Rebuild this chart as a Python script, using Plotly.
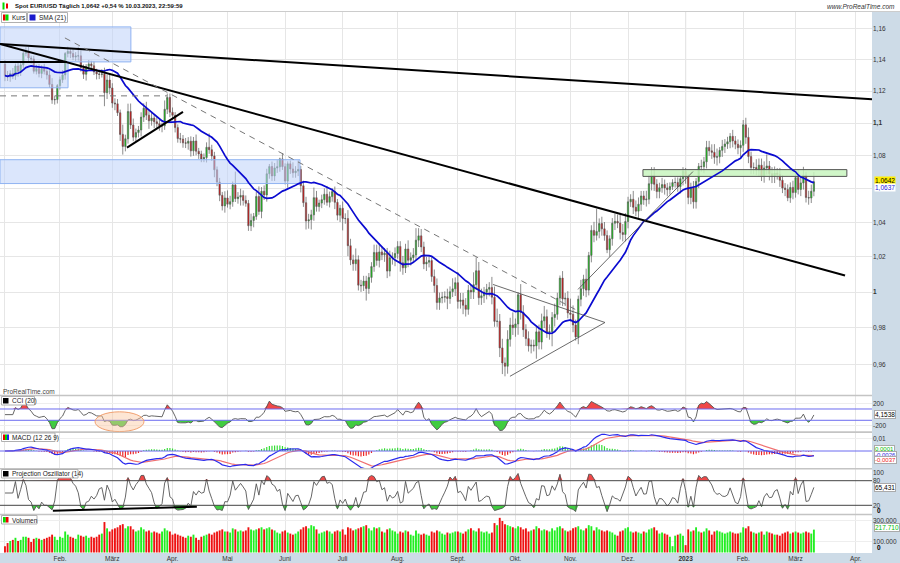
import numpy as np
import pandas as pd
import plotly.graph_objects as go

# ---------------- data (EUR/USD daily) ----------------
close_2022_01 = [1.1298,1.1289,1.1312,1.1296,1.1360,1.1326,1.1367,1.1442,1.1455,1.1411,1.1405,1.1326,1.1343,1.1312,1.1344,1.1326,1.1303,1.1242,1.1145,1.1147,1.1235]
close_2022_02 = [1.1272,1.1303,1.1440,1.1454,1.1440,1.1417,1.1424,1.1425,1.1349,1.1307,1.1357,1.1373,1.1361,1.1322,1.1309,1.1306,1.1309,1.1190,1.1270,1.1220]
close_2022_03 = [1.1125,1.1120,1.1064,1.0930,1.0856,1.0903,1.1072,1.0988,1.0913,1.0941,1.0957,1.1037,1.1093,1.1049,1.1014,1.1031,1.1008,1.0996,1.0983,1.0983,1.1086,1.1160,1.1067]
close_2022_04 = [1.1048,1.0972,1.0904,1.0901,1.0878,1.0876,1.0888,1.0829,1.0889,1.0827,1.0810,1.0780,1.0788,1.0851,1.0836,1.0798,1.0714,1.0640,1.0561,1.0498,1.0545]
close_2022_05 = [1.0508,1.0523,1.0623,1.0541,1.0550,1.0560,1.0530,1.0513,1.0381,1.0412,1.0436,1.0554,1.0465,1.0585,1.0563,1.0690,1.0734,1.0677,1.0725,1.0732,1.0780,1.0733]
close_2022_06 = [1.0646,1.0750,1.0719,1.0696,1.0706,1.0716,1.0618,1.0517,1.0409,1.0416,1.0445,1.0547,1.0494,1.0515,1.0535,1.0567,1.0519,1.0553,1.0583,1.0519,1.0443,1.0484]
close_2022_07 = [1.0424,1.0423,1.0265,1.0183,1.0161,1.0184,1.0039,1.0036,1.0062,1.0020,1.0083,1.0145,1.0226,1.0180,1.0229,1.0212,1.0222,1.0119,1.0196,1.0197,1.0220]
close_2022_08 = [1.0261,1.0166,1.0138,1.0246,1.0181,1.0196,1.0211,1.0297,1.0322,1.0258,1.0160,1.0170,1.0179,1.0088,1.0037,0.9941,0.9967,0.9971,0.9974,0.9964,1.0002,1.0018,1.0053]
close_2022_09 = [0.9947,0.9955,0.9926,0.9903,1.0010,1.0001,1.0042,1.0121,0.9968,0.9979,0.9999,1.0016,1.0026,0.9971,0.9836,0.9837,0.9690,0.9608,0.9590,0.9737,0.9816,0.9801]
close_2022_10 = [0.9822,0.9985,0.9886,0.9790,0.9741,0.9700,0.9705,0.9701,0.9778,0.9722,0.9839,0.9862,0.9775,0.9779,0.9858,0.9875,0.9966,1.0079,0.9961,0.9965,0.9883]
close_2022_11 = [0.9875,0.9816,0.9750,0.9960,1.0019,1.0073,1.0011,1.0209,1.0354,1.0325,1.0348,1.0394,1.0363,1.0324,1.0242,1.0305,1.0396,1.0407,1.0397,1.0341,1.0330,1.0406]
close_2022_12 = [1.0522,1.0537,1.0490,1.0467,1.0508,1.0557,1.0534,1.0538,1.0630,1.0680,1.0627,1.0583,1.0606,1.0625,1.0605,1.0595,1.0613,1.0637,1.0638,1.0612,1.0660,1.0705]
close_2023_01 = [1.0670,1.0548,1.0606,1.0522,1.0644,1.0735,1.0733,1.0762,1.0850,1.0829,1.0820,1.0790,1.0793,1.0832,1.0856,1.0871,1.0885,1.0918,1.0890,1.0869,1.0848,1.0863]
close_2023_02 = [1.0989,1.0912,1.0794,1.0727,1.0728,1.0712,1.0742,1.0676,1.0725,1.0737,1.0690,1.0674,1.0694,1.0685,1.0651,1.0604,1.0596,1.0546,1.0608,1.0577]
close_2023_03 = [1.0667,1.0596,1.0635,1.0682,1.0548,1.0545,1.0585,1.0642]
first_open = 1.1372

# upper / lower wicks in pips (beyond the candle body)
upw_2022_01 = [25,30,20,35,15,30,20,12,25,28,15,20,25,30,20,30,25,30,40,25,10]
dnw_2022_01 = [35,25,30,20,25,35,30,20,20,25,30,15,20,25,30,20,30,20,25,30,25]
upw_2022_02 = [20,30,10,30,20,30,25,60,35,20,15,25,20,30,20,25,30,40,35,40]
dnw_2022_02 = [25,20,30,25,30,20,25,30,25,30,40,20,25,20,35,30,20,85,40,40]
upw_2022_03 = [30,30,30,20,60,25,49,50,40,25,25,30,30,40,30,35,25,30,25,20,55,25,25]
dnw_2022_03 = [30,40,20,40,50,30,30,25,25,30,30,40,30,30,50,30,40,25,30,40,25,30,30]
upw_2022_04 = [30,20,20,35,25,30,25,30,25,40,20,20,25,30,85,30,25,20,25,20,40]
dnw_2022_04 = [25,30,25,25,30,30,40,35,30,25,30,20,20,30,25,30,45,25,35,27,40]
upw_2022_05 = [45,35,20,80,30,40,30,30,20,40,20,30,60,25,35,30,15,30,30,40,7,35]
dnw_2022_05 = [20,30,30,20,30,50,30,20,30,31,40,20,20,40,30,40,30,30,30,30,30,20]
upw_2022_06 = [20,15,20,40,30,55,20,30,35,35,30,60,40,20,30,35,50,30,20,30,20,20]
dnw_2022_06 = [20,40,30,30,30,30,40,25,50,45,57,35,30,30,30,30,20,30,30,40,30,40]
upw_2022_07 = [40,30,50,40,30,65,25,30,30,30,25,25,45,45,50,30,30,30,40,30,35]
dnw_2022_07 = [70,30,60,30,40,40,30,35,30,68,30,30,30,30,40,30,40,40,30,40,50]
upw_2022_08 = [30,30,40,30,50,30,40,70,45,40,30,30,30,20,40,40,30,30,30,45,30,60,30]
dnw_2022_08 = [30,50,40,30,40,30,30,30,40,30,30,40,30,30,40,40,41,30,30,60,30,30,40]
upw_2022_09 = [60,40,40,40,30,30,70,77,50,40,30,30,30,60,60,70,40,50,30,50,40,70]
dnw_2022_09 = [40,40,50,40,30,40,40,30,40,40,40,40,40,40,30,30,50,60,54,40,40,40]
upw_2022_10 = [30,14,60,40,30,40,30,30,30,40,40,60,40,40,30,60,30,15,40,30,40]
dnw_2022_10 = [50,60,40,40,40,30,40,30,70,40,40,40,30,40,80,50,30,40,40,40,30]
upw_2022_11 = [80,50,30,20,50,25,60,20,30,50,133,30,40,40,30,20,30,45,40,60,50,50]
dnw_2022_11 = [40,40,20,40,40,40,40,30,40,40,30,40,40,30,20,40,40,40,30,40,40,40]
upw_2022_12 = [30,30,50,40,40,30,30,50,50,50,50,30,30,40,30,30,25,20,30,30,20,25]
dnw_2022_12 = [40,30,40,30,40,40,30,40,30,40,40,40,40,30,40,40,30,20,30,30,40,40]
upw_2023_01 = [20,20,30,40,20,20,40,30,40,40,40,50,50,20,40,30,30,20,40,30,30,30]
dnw_2023_01 = [40,40,40,40,40,40,30,40,40,30,40,40,50,40,40,40,30,40,40,30,40,60]
upw_2023_02 = [30,44,60,30,30,50,40,40,40,70,30,40,40,30,40,30,30,30,30,40]
dnw_2023_02 = [40,40,40,40,40,30,40,30,40,40,40,40,40,30,40,30,40,20,30,40]
upw_2023_03 = [24,50,40,50,20,40,40,58]
dnw_2023_03 = [30,30,40,40,30,40,30,30]

# volume in thousands
vol_2022_01 = [60,90,110,120,140,110,120,150,150,140,100,130,140,130,120,130,140,150,170,150,120]
vol_2022_02 = [150,140,200,170,150,140,130,170,160,150,160,140,150,140,150,170,180,290,230,200]
vol_2022_03 = [220,230,240,260,270,230,250,250,220,200,210,240,220,200,210,190,200,190,180,200,230,210,200]
vol_2022_04 = [170,180,170,160,150,140,160,150,170,140,120,150,160,170,180,170,190,200,210,220,200]
vol_2022_05 = [200,190,230,220,200,210,200,210,240,220,210,220,230,240,220,230,240,220,210,190,180,200]
vol_2022_06 = [210,190,180,170,180,200,220,240,250,230,260,250,220,180,190,200,210,200,180,200,210,200]
vol_2022_07 = [220,170,240,230,210,220,230,240,250,260,230,210,240,230,240,200,190,220,230,210,200]
vol_2022_08 = [180,200,190,210,200,170,160,210,180,170,180,170,160,200,190,210,200,180,170,190,180,190,200]
vol_2022_09 = [200,190,180,200,220,230,210,200,230,200,190,200,180,190,280,260,330,300,270,260,250,240]
vol_2022_10 = [230,250,240,220,230,200,210,220,250,230,210,220,210,200,230,210,240,250,230,210,200]
vol_2022_11 = [210,230,240,250,220,210,230,260,250,210,240,220,210,200,210,200,190,170,160,200,210,230]
vol_2022_12 = [240,200,190,200,190,180,200,190,220,230,240,210,180,190,180,170,150,60,160,170,180,160]
vol_2023_01 = [70,220,200,210,240,200,190,200,230,210,170,200,210,200,190,180,190,200,190,180,180,190]
vol_2023_02 = [240,230,250,200,190,180,190,200,170,200,190,180,170,170,160,180,190,200,180,190]
vol_2023_03 = [200,190,180,190,200,190,180,217.71]

month_tick_text = ["", "Feb.", "März", "Apr.", "Mai", "Juni", "Juli", "Aug.", "Sept.", "Okt.",
                   "Nov.", "Dez.", "<b>2023</b>", "Feb.", "März", "Apr."]
price_ticks = [0.96, 0.98, 1.00, 1.02, 1.04, 1.06, 1.08, 1.10, 1.12, 1.14, 1.16]
price_tick_text = ["0,96", "0,98", "<b>1</b>", "1,02", "1,04", "", "1,08", "<b>1,1</b>", "1,12", "1,14", "1,16"]

# drawings on the price chart: (bar index, price) pairs
trend_solid = [(-1.9, 1.1502, 331.2, 1.1149), (-1.9, 1.1502, 320.9, 1.0094),
               (46.6, 1.0849, 68.0, 1.1070), (-1.9, 1.1385, 23.7, 1.1385)]
trend_dashed = [(-1.9, 1.1170, 61.9, 1.1170), (22.9, 1.1541, 219.6, 0.9889)]
trend_thin = [(186.4, 1.0043, 229.2, 0.9830), (192.9, 0.9536, 229.2, 0.9830),
              (218.9, 1.0015, 262.8, 1.0703)]
zones_blue = [(-1.9, 48.1, 1.1386, 1.1613), (-1.9, 24.1, 1.1221, 1.1386), (-1.9, 112.7, 1.0631, 1.0775)]
zone_green = (243.7, 321.6, 1.0674, 1.0715)

# ---------------- assemble ----------------
close = np.array(close_2022_01 + close_2022_02 + close_2022_03 + close_2022_04 + close_2022_05 +
                 close_2022_06 + close_2022_07 + close_2022_08 + close_2022_09 + close_2022_10 +
                 close_2022_11 + close_2022_12 + close_2023_01 + close_2023_02 + close_2023_03)
upw = np.array(upw_2022_01 + upw_2022_02 + upw_2022_03 + upw_2022_04 + upw_2022_05 + upw_2022_06 +
               upw_2022_07 + upw_2022_08 + upw_2022_09 + upw_2022_10 + upw_2022_11 + upw_2022_12 +
               upw_2023_01 + upw_2023_02 + upw_2023_03) / 10000.0
dnw = np.array(dnw_2022_01 + dnw_2022_02 + dnw_2022_03 + dnw_2022_04 + dnw_2022_05 + dnw_2022_06 +
               dnw_2022_07 + dnw_2022_08 + dnw_2022_09 + dnw_2022_10 + dnw_2022_11 + dnw_2022_12 +
               dnw_2023_01 + dnw_2023_02 + dnw_2023_03) / 10000.0
vol = np.array(vol_2022_01 + vol_2022_02 + vol_2022_03 + vol_2022_04 + vol_2022_05 + vol_2022_06 +
               vol_2022_07 + vol_2022_08 + vol_2022_09 + vol_2022_10 + vol_2022_11 + vol_2022_12 +
               vol_2023_01 + vol_2023_02 + vol_2023_03) * 1000.0

dates = pd.bdate_range("2022-01-03", "2023-03-10")
n = len(close)
m = min(n, len(upw), len(dnw), len(vol), len(dates))
close, upw, dnw, vol, dates = close[:m], upw[:m], dnw[:m], vol[:m], dates[:m]
n = m
xi = np.arange(n)
opn = np.concatenate([[first_open], close[:-1]])
high = np.maximum(opn, close) + upw
low = np.minimum(opn, close) - dnw
up = close >= opn

# month-start ticks
tick_idx = [0] + [i for i in range(1, n) if dates[i].month != dates[i - 1].month]
tick_idx.append(int(n - 1 + np.busday_count(dates[-1].date(), np.datetime64("2023-04-03"))))
tick_idx = tick_idx[:len(month_tick_text)]

# indicators
cs = pd.Series(close)
sma = cs.rolling(21, min_periods=1).mean()
tp = pd.Series((high + low + close) / 3)
tp_ma = tp.rolling(20, min_periods=5).mean()
md = tp.rolling(20, min_periods=5).apply(lambda a: np.mean(np.abs(a - a.mean())), raw=True)
cci = ((tp - tp_ma) / (0.015 * md)).fillna(0).values
ema12 = cs.ewm(span=12, adjust=False).mean()
ema26 = cs.ewm(span=26, adjust=False).mean()
macd = (ema12 - ema26).values
sig = pd.Series(macd).ewm(span=9, adjust=False).mean().values
hist = macd - sig
po = np.full(n, 50.0)
for t in range(4, n):
    k = min(14, t + 1)
    hh = high[t - k + 1:t + 1]
    ll = low[t - k + 1:t + 1]
    xs = np.arange(k)
    mh = np.polyfit(xs, hh, 1)[0]
    ml = np.polyfit(xs, ll, 1)[0]
    ub = np.max(hh + (k - 1 - xs) * mh)
    lb = np.min(ll + (k - 1 - xs) * ml)
    po[t] = 100 * (close[t] - lb) / (ub - lb) if ub > lb else 50
po = np.clip(po, 0, 100)

# ---------------- figure ----------------
GREEN = "#00dd00"
RED = "#ee0000"
fig = go.Figure()

def px(x):
    return x / 872.0

def py(y):
    return (553.0 - y) / 541.0

# zones
for (i0, i1, p0, p1) in zones_blue:
    fig.add_trace(go.Scatter(x=[i0, i1, i1, i0, i0], y=[p0, p0, p1, p1, p0], mode="lines",
                             fill="toself", fillcolor="rgba(190,210,250,0.55)",
                             line=dict(color="#8fb3f2", width=1), yaxis="y", hoverinfo="skip"))
i0, i1, p0, p1 = zone_green
fig.add_trace(go.Scatter(x=[i0, i1, i1, i0, i0], y=[p0, p0, p1, p1, p0], mode="lines",
                         fill="toself", fillcolor="rgba(200,245,190,0.85)",
                         line=dict(color="#555555", width=1), yaxis="y", hoverinfo="skip"))

fig.add_trace(go.Candlestick(x=xi, open=opn, high=high, low=low, close=close,
                             increasing=dict(fillcolor=GREEN, line=dict(color="#5a5a5a", width=0.7)),
                             decreasing=dict(fillcolor=RED, line=dict(color="#5a5a5a", width=0.7)),
                             whiskerwidth=0, yaxis="y", hoverinfo="skip"))
fig.add_trace(go.Scatter(x=xi, y=sma, mode="lines", line=dict(color="#0a0ad0", width=1.7),
                         yaxis="y", hoverinfo="skip"))

for (a0, b0, a1, b1) in trend_solid:
    fig.add_trace(go.Scatter(x=[a0, a1], y=[b0, b1], mode="lines",
                             line=dict(color="#000000", width=2), yaxis="y", hoverinfo="skip"))
for (a0, b0, a1, b1) in trend_dashed:
    fig.add_trace(go.Scatter(x=[a0, a1], y=[b0, b1], mode="lines",
                             line=dict(color="#777777", width=1, dash="6px,5px"), yaxis="y", hoverinfo="skip"))
for (a0, b0, a1, b1) in trend_thin:
    fig.add_trace(go.Scatter(x=[a0, a1], y=[b0, b1], mode="lines",
                             line=dict(color="#444444", width=0.8), yaxis="y", hoverinfo="skip"))

# CCI
fig.add_trace(go.Scatter(x=xi, y=np.full(n, 100.0), mode="lines", line=dict(width=0), yaxis="y2", hoverinfo="skip"))
fig.add_trace(go.Scatter(x=xi, y=np.maximum(cci, 100), mode="lines", line=dict(width=0), fill="tonexty",
                         fillcolor="#f04848", yaxis="y2", hoverinfo="skip"))
fig.add_trace(go.Scatter(x=xi, y=np.full(n, -100.0), mode="lines", line=dict(width=0), yaxis="y2", hoverinfo="skip"))
fig.add_trace(go.Scatter(x=xi, y=np.minimum(cci, -100), mode="lines", line=dict(width=0), fill="tonexty",
                         fillcolor="#40cc40", yaxis="y2", hoverinfo="skip"))
fig.add_trace(go.Scatter(x=xi, y=cci, mode="lines", line=dict(color="#555555", width=0.9), yaxis="y2", hoverinfo="skip"))

# MACD
fig.add_trace(go.Bar(x=xi, y=hist, marker=dict(color=np.where(hist >= 0, "#33dd33", "#ee2222"), line=dict(width=0)),
                     width=0.45, yaxis="y3", hoverinfo="skip"))
fig.add_trace(go.Scatter(x=xi, y=sig, mode="lines", line=dict(color="#f07070", width=1.2), yaxis="y3", hoverinfo="skip"))
fig.add_trace(go.Scatter(x=xi, y=macd, mode="lines", line=dict(color="#2a2aee", width=1.2), yaxis="y3", hoverinfo="skip"))

# Projection oscillator
fig.add_trace(go.Scatter(x=xi, y=np.full(n, 80.0), mode="lines", line=dict(width=0), yaxis="y4", hoverinfo="skip"))
fig.add_trace(go.Scatter(x=xi, y=np.maximum(po, 80), mode="lines", line=dict(width=0), fill="tonexty",
                         fillcolor="#f04848", yaxis="y4", hoverinfo="skip"))
fig.add_trace(go.Scatter(x=xi, y=np.full(n, 20.0), mode="lines", line=dict(width=0), yaxis="y4", hoverinfo="skip"))
fig.add_trace(go.Scatter(x=xi, y=np.minimum(po, 20), mode="lines", line=dict(width=0), fill="tonexty",
                         fillcolor="#40cc40", yaxis="y4", hoverinfo="skip"))
fig.add_trace(go.Scatter(x=xi, y=po, mode="lines", line=dict(color="#555555", width=0.9), yaxis="y4", hoverinfo="skip"))
fig.add_trace(go.Scatter(x=[18.3, 73.3], y=[6.8, 16.6], mode="lines", line=dict(color="#000000", width=2),
                         yaxis="y4", hoverinfo="skip"))

# Volume
fig.add_trace(go.Bar(x=xi, y=vol, marker=dict(color=np.where(up, "#22ee22", "#ee1111"), line=dict(width=0)),
                     width=0.72, yaxis="y5", hoverinfo="skip"))

GRID = "#e6e6e6"
axis_common = dict(side="right", anchor="x", zeroline=False, ticks="", showline=False,
                   tickfont=dict(size=6.5, color="#333333"))
fig.update_layout(
    width=900, height=563,
    margin=dict(l=0, r=28, t=12, b=10, autoexpand=False),
    paper_bgcolor="white", plot_bgcolor="white",
    font=dict(family="Liberation Sans, Arial, sans-serif", size=6.5, color="#222222"),
    showlegend=False, barmode="overlay", hovermode=False,
    xaxis=dict(domain=[0, 1], range=[-1.9, 331.2], anchor="y5", tickvals=tick_idx, ticktext=month_tick_text,
               showgrid=True, gridcolor=GRID, zeroline=False, ticks="", showline=False,
               rangeslider=dict(visible=False), tickfont=dict(size=6.5, color="#333333")),
    yaxis=dict(domain=[py(395), 1], type="log", range=[np.log10(0.9436), np.log10(1.1711)],
               tickvals=price_ticks, ticktext=price_tick_text, showgrid=True, gridcolor=GRID, **axis_common),
    yaxis2=dict(domain=[py(431.7), py(396)], range=[-302, 330], tickvals=[200, -200], ticktext=["200", "-200"],
                showgrid=True, gridcolor="#eeeeee", **axis_common),
    yaxis3=dict(domain=[py(468.5), py(432.5)], range=[-0.01378, 0.01457], tickvals=[0.01], ticktext=["0,01"],
                showgrid=True, gridcolor="#eeeeee", **axis_common),
    yaxis4=dict(domain=[py(514), py(469)], range=[-1.2, 108.5], tickvals=[100, 80, 20], ticktext=["100", "80", "20"],
                showgrid=False, **axis_common),
    yaxis5=dict(domain=[0, py(515)], range=[-4800, 357000], tickvals=[300000, 100000], ticktext=["300.000", "100.000"],
                showgrid=True, gridcolor="#eeeeee", **axis_common),
)

shapes = []
BAND = "#cddbe7"
shapes.append(dict(type="rect", xref="paper", yref="paper", x0=1, x1=px(900), y0=py(563), y1=py(12),
                   fillcolor=BAND, line=dict(width=0), layer="below"))
shapes.append(dict(type="rect", xref="paper", yref="paper", x0=0, x1=px(900), y0=py(563), y1=py(553),
                   fillcolor=BAND, line=dict(width=0), layer="below"))
shapes.append(dict(type="line", xref="paper", yref="paper", x0=0, x1=px(900), y0=py(11.5), y1=py(11.5),
                   line=dict(color="#cccccc", width=1)))
for ysep in [395.5, 432.1, 468.8, 514.5]:
    shapes.append(dict(type="line", xref="paper", yref="paper", x0=0, x1=1, y0=py(ysep), y1=py(ysep),
                       line=dict(color="#c4c4c4", width=1.6)))
shapes.append(dict(type="line", xref="paper", yref="y2", x0=0, x1=1, y0=100, y1=100, line=dict(color="#6b6bf0", width=1)))
shapes.append(dict(type="line", xref="paper", yref="y2", x0=0, x1=1, y0=-100, y1=-100, line=dict(color="#6b6bf0", width=1)))
shapes.append(dict(type="line", xref="paper", yref="y3", x0=0, x1=1, y0=0, y1=0, line=dict(color="#6b6bf0", width=1)))
shapes.append(dict(type="line", xref="paper", yref="y4", x0=0, x1=1, y0=80, y1=80, line=dict(color="#444444", width=1)))
shapes.append(dict(type="line", xref="paper", yref="y4", x0=0, x1=1, y0=20, y1=20, line=dict(color="#444444", width=1)))
shapes.append(dict(type="line", xref="x", yref="paper", x0=tick_idx[12], x1=tick_idx[12], y0=0, y1=1,
                   line=dict(color="#c8c8c8", width=1), layer="below"))
shapes.append(dict(type="circle", xref="x", yref="y2", x0=34.4, x1=53.1, y0=-300, y1=50,
                   fillcolor="rgba(250,200,160,0.45)", line=dict(color="#f0a070", width=1)))

def box(x0, y0, x1, y1):
    shapes.append(dict(type="rect", xref="paper", yref="paper", x0=px(x0), x1=px(x1), y0=py(y1), y1=py(y0),
                       fillcolor="white", line=dict(color="#b0b0b0", width=1)))

def icon(x0, y0, x1, y1, color):
    shapes.append(dict(type="rect", xref="paper", yref="paper", x0=px(x0), x1=px(x1), y0=py(y1), y1=py(y0),
                       fillcolor=color, line=dict(width=0)))

box(1.5, 12.5, 26.5, 22.5)
icon(3, 14.5, 5.5, 20.5, RED); icon(5.5, 14.5, 8.5, 20.5, GREEN)
box(27.5, 12.5, 67.5, 22.5)
icon(29.5, 14.5, 35.5, 20.5, "#1a1acc")
box(1.5, 396.5, 34.5, 405)
icon(3, 398, 8.5, 403.5, "#000000")
box(1.5, 433, 55, 441.5)
icon(3, 434.5, 5, 440, RED); icon(5, 434.5, 7, 440, GREEN); icon(7, 434.5, 9, 440, "#2222ee")
box(1.5, 469.5, 78, 478)
icon(3, 471, 8.5, 476.5, "#000000")
box(1.5, 515.5, 37, 524)
icon(3, 517, 5.8, 522.5, GREEN); icon(5.8, 517, 8.5, 522.5, RED)
icon(2.5, 2.5, 4.5, 9.5, GREEN); icon(6, 3.5, 8, 8.5, RED)
fig.update_layout(shapes=shapes)

ann = []
def text(x, y, s, size=6.5, color="#222222", anchor="left", **kw):
    ann.append(dict(xref="paper", yref="paper", x=px(x), y=py(y), text=s, showarrow=False,
                    xanchor=anchor, yanchor="middle", font=dict(size=size, color=color), **kw))

text(13, 6, "<b>Spot EUR/USD Täglich 1,0642 +0,54 % 10.03.2023, 22:59:59</b>", size=6, color="#111111")
text(897, 6, "<i>www.ProRealTime.com</i>", size=6.5, color="#333333", anchor="right")
text(10, 17.5, "Kurs")
text(37, 17.5, "SMA (21)")
text(0.5, 391.5, "ProRealTime.com", size=6.5, color="#444444")
text(10, 401, "CCI (20)")
text(10, 437.5, "MACD (12 26 9)")
text(10, 474, "Projection Oszillator (14)")
text(10, 520, "Volumen")
text(874, 180.5, "1,0642", color="#000000", bgcolor="#ffee00", borderpad=0)
text(874, 187.5, "1,0637", color="#2222dd", bgcolor="white", borderpad=0)
text(874, 414, "4,1538", color="#000000", bgcolor="white", bordercolor="#aaaaaa", borderpad=0)
text(874, 448.5, "0,0001", size=6, color="#00bb00", bgcolor="white", bordercolor="#aaaaaa", borderpad=0)
text(874, 454.5, "-0,0026", size=6, color="#2222dd", bgcolor="white", bordercolor="#aaaaaa", borderpad=0)
text(874, 460.5, "-0,0037", size=6, color="#ee2222", bgcolor="white", bordercolor="#aaaaaa", borderpad=0)
text(874, 487, "65,431", color="#000000", bgcolor="white", bordercolor="#aaaaaa", borderpad=0)
text(875, 510.5, "<b>0</b>", color="#000000")
text(874, 527, "217.710", color="#00bb00", bgcolor="white", bordercolor="#aaaaaa", borderpad=0)
text(875, 547.5, "<b>0</b>", color="#000000")
fig.update_layout(annotations=ann)

fig.write_html("out.html", config={"displayModeBar": False, "staticPlot": True},
               post_script="document.body.style.margin='0px';document.body.style.padding='0px';")
